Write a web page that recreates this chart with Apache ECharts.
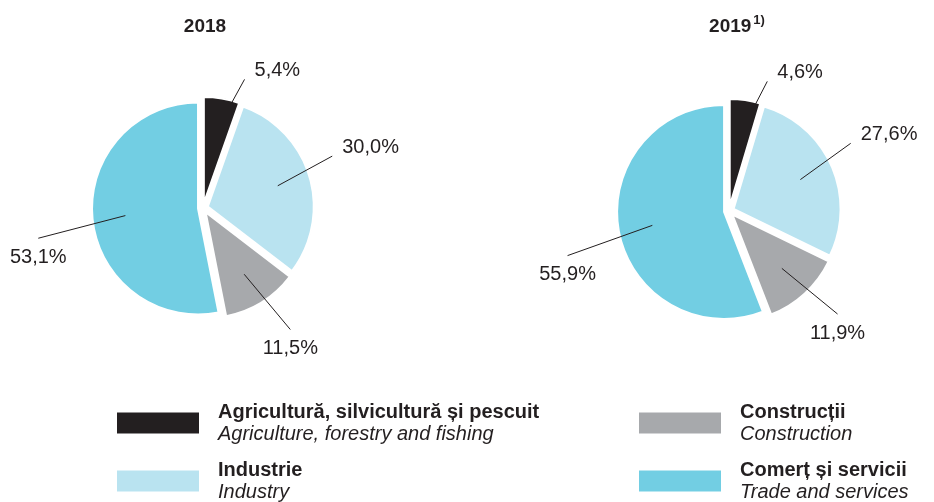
<!DOCTYPE html>
<html>
<head>
<meta charset="utf-8">
<script src="https://cdn.jsdelivr.net/npm/echarts@6/dist/echarts.min.js"></script>
<style>
  html, body { margin: 0; padding: 0; background: #fff; }
  #chart { width: 934px; height: 502px; }
</style>
</head>
<body>
<div id="chart"></div>
<script>
// date
var numeRo = ['Agricultură, silvicultură și pescuit', 'Industrie', 'Construcții', 'Comerț și servicii'];
var numeEn = ['Agriculture, forestry and fishing', 'Industry', 'Construction', 'Trade and services'];
var valori2018 = [5.4, 30.0, 11.5, 53.1];
var valori2019 = [4.6, 27.6, 11.9, 55.9];
var culori = ['#231f20', '#b9e3f0', '#a7a9ac', '#72cee3'];

// stil linii de legatura (lungime, rotire fata de raza in grade)
var lungimiLinie = [59, 62, 72, 90];
var rotireLinie = [19, -12, -8, -9];

var font = '"Liberation Sans", Arial, Helvetica, sans-serif';
var textColor = '#231f20';

var chart = echarts.init(document.getElementById('chart'));

function dateFelii(valori) {
  return valori.map(function (v, i) {
    return { name: numeRo[i], value: v, selected: true, itemStyle: { color: culori[i] } };
  });
}

function dateEtichete(valori) {
  return valori.map(function (v, i) {
    return { name: numeRo[i], value: v, labelLine: { length: lungimiLinie[i] } };
  });
}

function fmt(p) {
  return p.value.toFixed(1).replace('.', ',') + '%';
}

// roteste linia in jurul punctului de start, apoi aseaza eticheta
function asezareEticheta(p) {
  var pts = p.labelLinePoints;
  if (!pts) return {};
  var s = pts[0], e = pts[pts.length - 1];
  var a = rotireLinie[p.dataIndex] * Math.PI / 180;
  var vx = e[0] - s[0], vy = e[1] - s[1];
  var ex = s[0] + vx * Math.cos(a) - vy * Math.sin(a);
  var ey = s[1] + vx * Math.sin(a) + vy * Math.cos(a);
  var linie = [[s[0], s[1]], [ex, ey], [ex, ey]];
  if (ey < s[1]) {
    return { x: ex + 10, y: ey - 9, align: 'left', verticalAlign: 'middle', labelLinePoints: linie };
  }
  return { x: ex, y: ey + 19, align: 'center', verticalAlign: 'middle', labelLinePoints: linie };
}

function serieFelii(centru, raza, valori) {
  return {
    type: 'pie',
    center: centru,
    radius: raza,
    startAngle: 90,
    clockwise: true,
    selectedMode: 'multiple',
    selectedOffset: 5,
    silent: true,
    animation: false,
    label: { show: false },
    labelLine: { show: false },
    itemStyle: { borderColor: '#fff', borderWidth: 2 },
    emphasis: { disabled: true },
    data: dateFelii(valori)
  };
}

function serieEtichete(centru, valori) {
  return {
    type: 'pie',
    center: centru,
    radius: 78,
    startAngle: 90,
    clockwise: true,
    silent: true,
    animation: false,
    avoidLabelOverlap: false,
    z: 5,
    itemStyle: { color: 'rgba(0,0,0,0)', borderWidth: 0 },
    emphasis: { disabled: true },
    label: {
      show: true,
      position: 'outside',
      alignTo: 'none',
      formatter: fmt,
      fontFamily: font,
      fontSize: 20,
      color: textColor
    },
    labelLine: {
      show: true,
      length2: 0,
      lineStyle: { color: textColor, width: 1 }
    },
    labelLayout: asezareEticheta,
    data: dateEtichete(valori)
  };
}

function formatLegenda(name) {
  var i = numeRo.indexOf(name);
  return '{b|' + name + '}\n{i|' + numeEn[i] + '}';
}

function legenda(i, left, top) {
  return {
    data: [numeRo[i]],
    left: left,
    top: top,
    padding: 0,
    orient: 'vertical',
    icon: 'rect',
    itemWidth: 84,
    itemHeight: 23,
    selectedMode: false,
    formatter: formatLegenda,
    textStyle: {
      fontFamily: font,
      color: textColor,
      padding: [0, 0, 0, 13],
      rich: {
        b: { fontFamily: font, fontSize: 20, fontWeight: 'bold', lineHeight: 22, color: textColor },
        i: { fontFamily: font, fontSize: 20, fontStyle: 'italic', lineHeight: 22, color: textColor }
      }
    }
  };
}

var option = {
  backgroundColor: '#fff',
  title: [
    {
      text: '2018',
      left: 205,
      top: 27,
      padding: 0,
      textAlign: 'center',
      textVerticalAlign: 'middle',
      textStyle: { fontFamily: font, fontSize: 19, fontWeight: 'bold', color: textColor }
    },
    {
      text: '{y|2019}{s|1)}',
      left: 737,
      top: 27,
      padding: 0,
      textAlign: 'center',
      textVerticalAlign: 'middle',
      textStyle: {
        fontFamily: font,
        rich: {
          y: { fontFamily: font, fontSize: 19, fontWeight: 'bold', lineHeight: 26, color: textColor },
          s: { fontFamily: font, fontSize: 13, lineHeight: 13, color: textColor, verticalAlign: 'top', padding: [0, 0, 0, 2] }
        }
      }
    }
  ],
  legend: [
    legenda(0, 115, 402),
    legenda(1, 115, 460),
    legenda(2, 637, 402),
    legenda(3, 637, 460)
  ],
  series: [
    serieFelii([203, 208], 106, valori2018),
    serieFelii([729, 211], 107, valori2019),
    serieEtichete([203, 208], valori2018),
    serieEtichete([729, 211], valori2019)
  ]
};

chart.setOption(option);
</script>
</body>
</html>
